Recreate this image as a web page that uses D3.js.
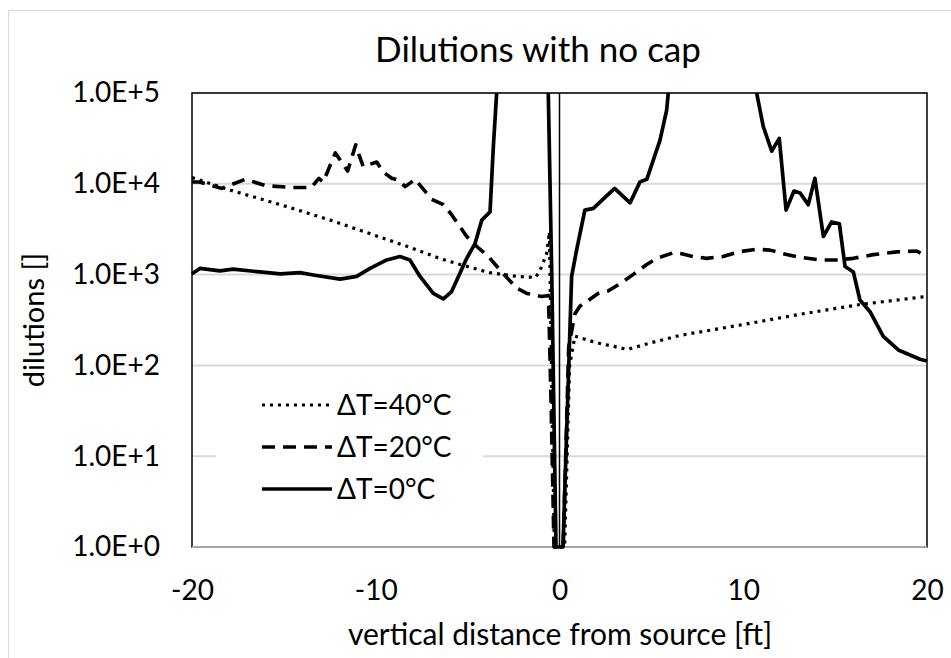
<!DOCTYPE html>
<html>
<head>
<meta charset="utf-8">
<script src="https://cdn.jsdelivr.net/npm/d3@7"></script>
<style>
  html, body { margin: 0; padding: 0; background: #fff; }
  svg { display: block; font-family: Lato, "Liberation Sans", sans-serif; }
</style>
</head>
<body>
<svg id="chart" width="951" height="658"></svg>
<script>
// Distance from source [ft] and dilution factor for each temperature difference
const dist40 = [-20, -17.9, -15.2, -12.5, -9.8, -8.0, -6.5, -5.4, -3.8, -2.3, -1.3, -1.05, -0.7, -0.55, -0.4, -0.28,
  0.28, 0.55, 0.84, 2.0, 3.7, 5.0, 6.56, 10, 13, 16.35, 20];
const dil40 = [11700, 8500, 5900, 4000, 2600, 1950, 1500, 1290, 1050, 955, 930, 1120, 1700, 2950, 32, 1,
  1, 100, 210, 178, 150, 178, 214, 282, 363, 468, 575];

const dist20 = [-20, -19.6, -18.4, -17.1, -16.0, -14.6, -13.5, -13.1, -12.86, -12.2, -11.53, -11.09, -10.95, -10.68,
  -9.95, -9.6, -9.13, -8.77, -8.4, -7.86, -6.96, -6.32, -5.87, -5.05, -4.5, -3.87, -3.15, -2.33, -1.78, -0.97,
  -0.6, -0.45, -0.3, 0.2, 0.5, 0.84, 1.12, 2.1, 2.64, 3.3, 4.0, 4.75, 5.29, 6.2, 6.65, 7.28, 8.0, 8.9, 9.73,
  10.73, 11.46, 12.18, 13.09, 14.18, 15.1, 15.99, 17.08, 18.35, 19.44, 20];
const dil20 = [10470, 10470, 8900, 11220, 9550, 9120, 9120, 11480, 10470, 21900, 13800, 26900, 21900, 15500,
  17400, 13500, 11500, 11000, 9300, 11200, 6760, 5890, 4570, 2630, 2040, 1580, 1070, 710, 620, 575,
  590, 32, 1, 1, 160, 370, 450, 620, 660, 795, 1000, 1290, 1510, 1740, 1700, 1580, 1510, 1580, 1780,
  1900, 1860, 1700, 1550, 1450, 1450, 1510, 1660, 1780, 1820, 1580];

const dist0 = [-20, -19.57, -18.48, -17.77, -16.3, -15.2, -14.12, -13.4, -11.94, -11.04, -10.31, -9.4, -8.68,
  -8.14, -7.59, -6.87, -6.32, -5.87, -5.05, -4.6, -4.23, -3.78, -3.6, -3.42, -3.2, -0.8, -0.61, -0.42, -0.19,
  0.19, 0.66, 0.93, 1.38, 1.84, 3.0, 3.84, 4.38, 4.75, 5.47, 5.83, 5.92, 6.2, 10.4, 10.73, 11.09, 11.55,
  11.96, 12.33, 12.76, 13.09, 13.54, 13.9, 14.36, 14.81, 15.23, 15.54, 15.99, 16.35, 16.9, 17.62, 18.44,
  19.62, 20];
const dil0 = [1020, 1170, 1100, 1150, 1070, 1020, 1050, 990, 890, 955, 1170, 1450, 1580,
  1450, 955, 620, 540, 650, 1510, 2190, 3980, 4900, 25700, 100000, 630000, 630000, 100000, 955, 1,
  1, 955, 1860, 5130, 5370, 8910, 6170, 10500, 11200, 30200, 64600, 100000, 630000, 630000, 100000, 42700, 22900,
  31600, 5130, 8320, 7940, 5890, 11500, 2630, 3800, 3630, 1230, 1070, 525, 390, 209, 148,
  117, 112];

const seriesNames = ["\u0394T=40\u00b0C", "\u0394T=20\u00b0C", "\u0394T=0\u00b0C"];
const yTickValues = [1, 10, 100, 1000, 10000, 100000];
const xTickValues = [-20, -10, 0, 10, 20];
const titleText = "Dilutions with no cap";
const xTitle = "vertical distance from source [ft]";
const yTitle = "dilutions []";

const series = [
  { name: seriesNames[0], x: dist40, y: dil40, dash: "3,5", width: 3.2 },
  { name: seriesNames[1], x: dist20, y: dil20, dash: "13,8", width: 3.6 },
  { name: seriesNames[2], x: dist0,  y: dil0,  dash: null,   width: 3.7 }
];

const svg = d3.select("#chart");
const plot = { left: 192, right: 927, top: 93, bottom: 547 };

const x = d3.scaleLinear().domain([-20, 20]).range([plot.left, plot.right]);
const y = d3.scaleLog().domain([1, 1e5]).range([plot.bottom, plot.top]);

// chart area outline
svg.append("rect")
  .attr("x", 8.5).attr("y", 10.5).attr("width", 1000).attr("height", 700)
  .attr("fill", "#fff").attr("stroke", "#d9d9d9").attr("stroke-width", 1);

// horizontal gridlines
svg.append("g")
  .selectAll("line")
  .data(yTickValues)
  .join("line")
  .attr("x1", plot.left).attr("x2", plot.right)
  .attr("y1", d => y(d)).attr("y2", d => y(d))
  .attr("stroke", "#d9d9d9").attr("stroke-width", 2);

// plot area frame
svg.append("rect")
  .attr("x", plot.left).attr("y", plot.top)
  .attr("width", plot.right - plot.left).attr("height", plot.bottom - plot.top)
  .attr("fill", "none").attr("stroke", "#000").attr("stroke-width", 1.5);

// category axis line along the bottom
svg.append("line")
  .attr("x1", plot.left).attr("x2", plot.right)
  .attr("y1", plot.bottom).attr("y2", plot.bottom)
  .attr("stroke", "#a6a6a6").attr("stroke-width", 2);

// value axis crossing at x = 0
svg.append("line")
  .attr("x1", x(0)).attr("x2", x(0))
  .attr("y1", plot.top).attr("y2", plot.bottom)
  .attr("stroke", "#000").attr("stroke-width", 1.5);

// y axis tick labels
const yAxis = d3.axisLeft(y)
  .tickValues(yTickValues)
  .tickSize(0)
  .tickPadding(32)
  .tickFormat(d => "1.0E+" + Math.round(Math.log10(d)));
const gy = svg.append("g").attr("transform", `translate(${plot.left},0)`).call(yAxis);
gy.select(".domain").remove();
gy.selectAll("text").attr("font-size", 28).attr("fill", "#000")
  .attr("font-family", "Lato, sans-serif");

// x axis tick labels (plain hyphen for negatives)
const xAxis = d3.axisBottom(x).tickValues(xTickValues).tickSize(0).tickPadding(0)
  .tickFormat(d => String(d));
const gx = svg.append("g").attr("transform", `translate(0,${plot.bottom})`).call(xAxis);
gx.select(".domain").remove();
gx.selectAll("text").attr("font-size", 28).attr("fill", "#000")
  .attr("dy", null).attr("y", 53)
  .attr("font-family", "Lato, sans-serif");

// series lines, clipped to the plot area
svg.append("clipPath").attr("id", "plotClip")
  .append("rect")
  .attr("x", plot.left - 2).attr("y", plot.top)
  .attr("width", plot.right - plot.left + 4).attr("height", plot.bottom - plot.top + 3);

const line = d3.line()
  .x(d => x(d[0]))
  .y(d => y(d[1]));

const gLines = svg.append("g").attr("clip-path", "url(#plotClip)");
series.forEach(s => {
  gLines.append("path")
    .datum(d3.zip(s.x, s.y))
    .attr("d", line)
    .attr("fill", "none")
    .attr("stroke", "#000")
    .attr("stroke-width", s.width)
    .attr("stroke-linejoin", "round")
    .attr("stroke-dasharray", s.dash);
});

// legend
const legend = { left: 216, top: 372, right: 483, bottom: 530 };
svg.append("rect")
  .attr("x", legend.left).attr("y", legend.top)
  .attr("width", legend.right - legend.left).attr("height", legend.bottom - legend.top)
  .attr("fill", "#fff");
const rowY = [405, 447, 489];
series.forEach((s, i) => {
  svg.append("line")
    .attr("x1", 262).attr("x2", 332)
    .attr("y1", rowY[i]).attr("y2", rowY[i])
    .attr("stroke", "#000").attr("stroke-width", s.width)
    .attr("stroke-dasharray", s.dash);
  svg.append("text")
    .attr("x", 337).attr("y", rowY[i])
    .attr("dy", "0.35em")
    .attr("font-size", 28)
    .text(s.name);
});

// titles
svg.append("text")
  .attr("x", 538).attr("y", 62)
  .attr("text-anchor", "middle")
  .attr("font-size", 35)
  .text(titleText);

svg.append("text")
  .attr("x", 560).attr("y", 645)
  .attr("text-anchor", "middle")
  .attr("font-size", 30)
  .text(xTitle);

svg.append("text")
  .attr("transform", `translate(44,${(plot.top + plot.bottom) / 2}) rotate(-90)`)
  .attr("text-anchor", "middle")
  .attr("font-size", 29)
  .text(yTitle);
</script>
</body>
</html>
